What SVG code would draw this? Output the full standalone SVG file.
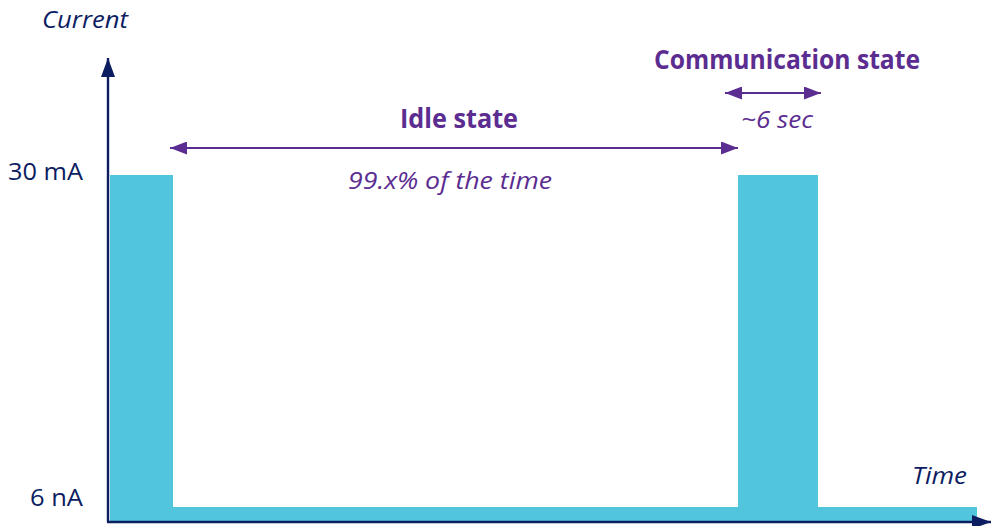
<svg xmlns="http://www.w3.org/2000/svg" width="991" height="526" viewBox="0 0 991 526">
<defs>
<style>
.navy{fill:#0c1d62;font-family:"Open Sans","Noto Sans",sans-serif;font-size:24.5px;}
.purple{fill:#5c2d91;font-family:"Open Sans","Noto Sans",sans-serif;}
.title{font-size:26px;font-weight:bold;}
.note{font-size:24px;font-style:italic;}
.bar{fill:#50c5dc;}
.axis{stroke:#0c1d62;stroke-width:2.4;fill:none;}
.dim{stroke:#5c2d91;stroke-width:2.2;fill:none;}
</style>
<marker id="navyHead" viewBox="0 0 10 10" refX="10" refY="5" markerWidth="19" markerHeight="14" markerUnits="userSpaceOnUse" orient="auto-start-reverse" preserveAspectRatio="none">
<path d="M0,0 L10,5 L0,10 Z" fill="#0c1d62"/>
</marker>
<marker id="purpleHead" viewBox="0 0 10 10" refX="10" refY="5" markerWidth="17" markerHeight="13" markerUnits="userSpaceOnUse" orient="auto-start-reverse" preserveAspectRatio="none">
<path d="M0,0 L10,5 L0,10 Z" fill="#5c2d91"/>
</marker>
</defs>
<rect width="991" height="526" fill="#ffffff"/>
<g id="signal">
<rect class="bar" x="110" y="175" width="63" height="347"/>
<rect class="bar" x="738" y="175" width="80" height="347"/>
<rect class="bar" x="110" y="507" width="867" height="15"/>
</g>
<g id="connectors">
<line id="y-axis" class="axis" x1="108" y1="522" x2="108" y2="58" marker-end="url(#navyHead)"/>
<line id="x-axis" class="axis" x1="107" y1="522" x2="991" y2="522" marker-end="url(#navyHead)"/>
<line id="idle-arrow" class="dim" x1="170" y1="148" x2="738" y2="148" marker-start="url(#purpleHead)" marker-end="url(#purpleHead)"/>
<line id="comm-arrow" class="dim" x1="725" y1="93" x2="821" y2="93" marker-start="url(#purpleHead)" marker-end="url(#purpleHead)"/>
</g>
<g id="axis-labels">
<text class="navy" x="42" y="28" font-style="italic" textLength="86" lengthAdjust="spacingAndGlyphs">Current</text>
<text class="navy" x="8" y="180" textLength="75" lengthAdjust="spacingAndGlyphs">30 mA</text>
<text class="navy" x="30" y="506" textLength="53" lengthAdjust="spacingAndGlyphs">6 nA</text>
<text class="navy" x="912" y="484" font-style="italic" textLength="55" lengthAdjust="spacingAndGlyphs">Time</text>
</g>
<g id="idle-state">
<text class="purple title" x="400" y="128" textLength="118" lengthAdjust="spacingAndGlyphs">Idle state</text>
<text class="purple note" x="348" y="189" textLength="204" lengthAdjust="spacingAndGlyphs">99.x% of the time</text>
</g>
<g id="communication-state">
<text class="purple title" x="654" y="69" textLength="266" lengthAdjust="spacingAndGlyphs">Communication state</text>
<text class="purple note" x="741" y="128" textLength="72" lengthAdjust="spacingAndGlyphs">~6 sec</text>
</g>
</svg>
